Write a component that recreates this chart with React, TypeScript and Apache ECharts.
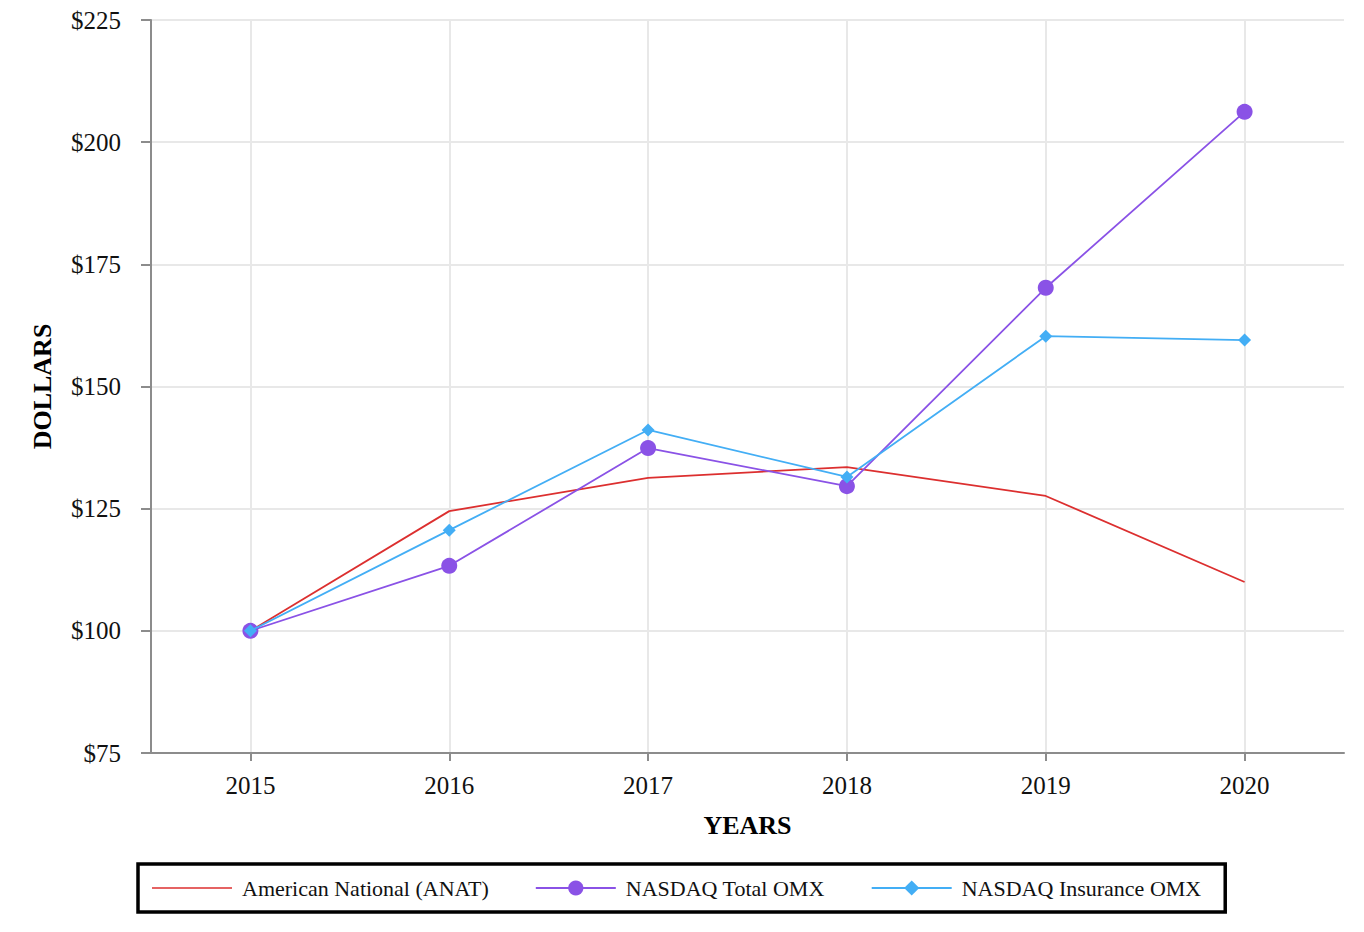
import React, { useEffect, useRef } from "react";
import * as echarts from "echarts";

const years = ["2015", "2016", "2017", "2018", "2019", "2020"];
const anat = [100, 124.5, 131.3, 133.5, 127.6, 110.0];
const nasdaqTotal = [100, 113.3, 137.4, 129.6, 170.2, 206.2];
const nasdaqInsurance = [100, 120.6, 141.1, 131.5, 160.3, 159.5];
const seriesNames = ["American National (ANAT)", "NASDAQ Total OMX", "NASDAQ Insurance OMX"];

const FONT = "'Liberation Serif', 'Times New Roman', serif";

export default function App() {
  const ref = useRef<HTMLDivElement>(null);
  useEffect(() => {
    if (!ref.current) return;
    const chart = echarts.init(ref.current, null, { renderer: "svg" });
    const axisLineColor = "#8c8c8c";
    chart.setOption({
      animation: false,
      backgroundColor: "#ffffff",
      textStyle: { fontFamily: FONT },
      grid: { left: 151, right: 20, top: 20, bottom: 179, containLabel: false },
      legend: {
        left: 138,
        top: 864,
        orient: "horizontal",
        borderColor: "#000000",
        borderWidth: 3.5,
        borderRadius: 0,
        padding: [13, 24, 13, 14],
        itemGap: 46,
        itemWidth: 80,
        itemHeight: 19,
        textStyle: { fontFamily: FONT, fontSize: 22, color: "#111", padding: [0, 0, 0, 5] },
        data: [
          { name: seriesNames[0], icon: "path://M0,0 L80,0 L80,1.6 L0,1.6 Z" },
          seriesNames[1],
          seriesNames[2],
        ],
      },
      xAxis: {
        type: "category",
        data: years,
        boundaryGap: true,
        name: "YEARS",
        nameLocation: "middle",
        nameGap: 59,
        nameTextStyle: { fontFamily: FONT, fontSize: 26, fontWeight: "bold", color: "#000" },
        axisLine: { show: true, lineStyle: { color: axisLineColor, width: 2 } },
        axisTick: { show: true, alignWithLabel: true, length: 8, lineStyle: { color: axisLineColor, width: 2 } },
        axisLabel: { fontFamily: FONT, fontSize: 25, color: "#111", margin: 20 },
        splitLine: { show: true, alignWithLabel: true, lineStyle: { color: "#e8e8e8", width: 2 } },
      },
      yAxis: {
        type: "value",
        min: 75,
        max: 225,
        interval: 25,
        name: "DOLLARS",
        nameLocation: "middle",
        nameGap: 96,
        nameTextStyle: { fontFamily: FONT, fontSize: 26, fontWeight: "bold", color: "#000" },
        axisLine: { show: true, lineStyle: { color: axisLineColor, width: 2 } },
        axisTick: { show: true, length: 10, lineStyle: { color: axisLineColor, width: 2 } },
        axisLabel: { fontFamily: FONT, fontSize: 25, color: "#111", margin: 30, formatter: (v: number) => "$" + v },
        splitLine: { show: true, lineStyle: { color: "#e8e8e8", width: 2 } },
      },
      series: [
        {
          name: seriesNames[0],
          type: "line",
          data: anat,
          symbol: "none",
          lineStyle: { color: "#dc2f2f", width: 1.8 },
          itemStyle: { color: "#dc2f2f" },
          z: 2,
        },
        {
          name: seriesNames[1],
          type: "line",
          data: nasdaqTotal,
          symbol: "circle",
          symbolSize: 16,
          lineStyle: { color: "#8a52e6", width: 1.8 },
          itemStyle: { color: "#8a52e6" },
          z: 3,
        },
        {
          name: seriesNames[2],
          type: "line",
          data: nasdaqInsurance,
          symbol: "diamond",
          symbolSize: 13,
          lineStyle: { color: "#43aef5", width: 1.8 },
          itemStyle: { color: "#43aef5" },
          z: 4,
        },
      ],
    });
    return () => chart.dispose();
  }, []);
  return <div ref={ref} style={{ width: 1364, height: 932, margin: -8 }} />;
}
